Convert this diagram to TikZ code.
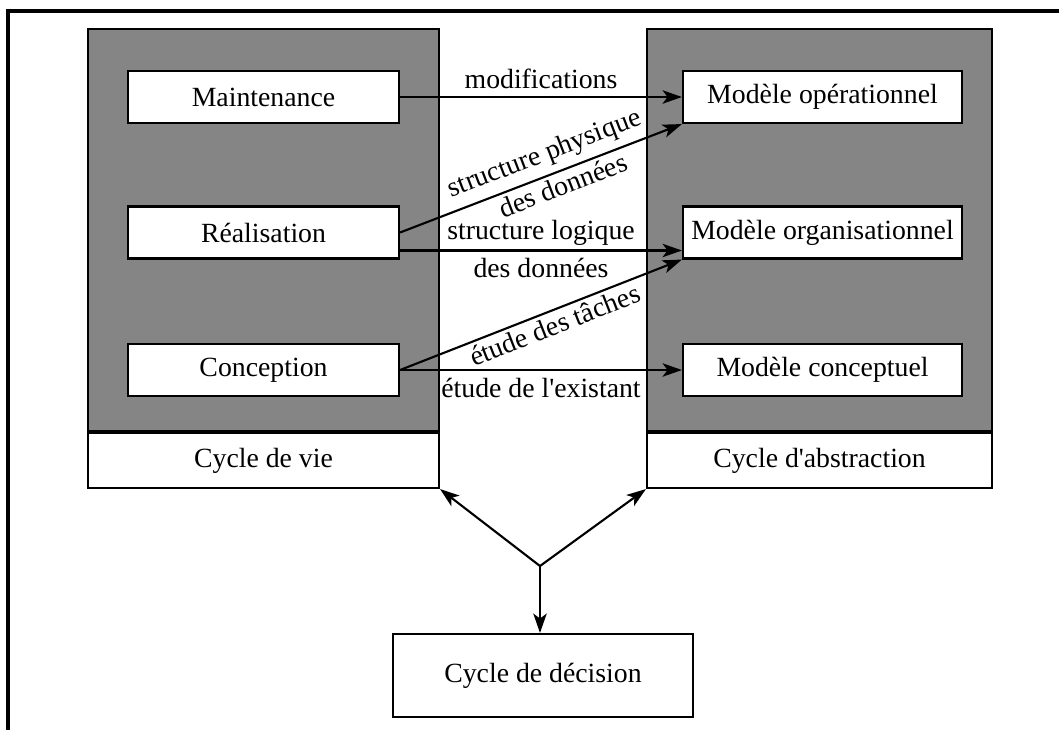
\documentclass[tikz,border=0pt]{standalone}
\usepackage{fontspec}
\setmainfont{Liberation Serif}
\usetikzlibrary{arrows.meta,positioning}

\begin{document}
\begin{tikzpicture}[>={Stealth[length=5.5pt,width=3.8pt,inset=1.4pt]}, line width=0.6pt,
  font=\fontsize{7.9}{9.5}\selectfont,
  bloc/.style={draw,fill=white,minimum height=0.52cm,inner sep=0pt},
  gauche/.style={bloc,minimum width=2.71cm},
  droite/.style={bloc,minimum width=2.79cm},
  cycle/.style={draw,fill=white,minimum height=0.55cm,inner sep=0pt},
  fond/.style={draw,fill=black!48,minimum height=4.02cm,inner sep=0pt,anchor=south},
  etiq/.style={inner sep=1pt}]
  \useasboundingbox (0,0) rectangle (10.59,7.29);
  \draw[line width=0.9pt] (0.08,-0.05) rectangle (10.65,7.18);
  % les deux cycles du haut
  \node[cycle,minimum width=3.51cm] (vie) at (2.635,2.685) {Cycle de vie};
  \node[fond,minimum width=3.51cm] (gvie) at (vie.north) {};
  \node[cycle,minimum width=3.45cm] (abs) at (8.195,2.685) {Cycle d\textquotesingle abstraction};
  \node[fond,minimum width=3.45cm] (gabs) at (abs.north) {};
  \node[gauche] (maint) at (2.635,6.32) {Maintenance};
  \node[gauche] (rea) at (2.635,4.965) {Réalisation};
  \node[gauche] (conc) at (2.635,3.59) {Conception};
  \node[droite] (op) at (8.225,6.32) {Modèle opérationnel};
  \node[droite] (org) at (8.225,4.965) {Modèle organisationnel};
  \node[droite] (concept) at (8.225,3.59) {Modèle conceptuel};
  % liens
  \draw[->] (maint.east) -- node[etiq,above=1pt]{modifications} (op.west);
  \draw[->] (rea.east) -- node[etiq,pos=.54,sloped,above=1pt]{structure physique}
    node[etiq,pos=.56,sloped,below]{des données} (op.south west);
  \draw[->] ([yshift=-0.18cm]rea.east) -- node[etiq,above]{structure logique}
    node[etiq,below=1pt]{des données} ([yshift=-0.18cm]org.west);
  \draw[->] (conc.east) -- node[etiq,pos=.53,sloped,below]{étude des tâches} (org.south west);
  \draw[->] (conc.east) -- node[etiq,below=1pt]{étude de l\textquotesingle existant} (concept.west);
  % decision
  \node[draw,minimum width=3cm,minimum height=0.83cm] (dec) at (5.43,0.535) {Cycle de décision};
  \coordinate (noeud) at (5.40,1.63);
  \draw[->] (noeud) -- (vie.south east);
  \draw[->] (noeud) -- (abs.south west);
  \draw[->] (noeud) -- (noeud |- dec.north);
\end{tikzpicture}
\end{document}
